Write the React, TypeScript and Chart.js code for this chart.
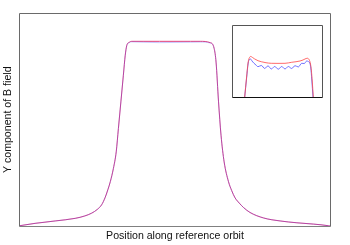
import React, { useEffect, useRef } from "react";
import { Chart, registerables } from "chart.js";

Chart.register(...registerables);

// Main plot: position along orbit (0..100) and normalized field
const mainX = [0, 5.0, 11.5, 17.9, 21.0, 23.2, 25.0, 26.4, 27.5, 28.4, 29.2, 30.2, 31.1, 31.8, 32.6, 33.4, 34.0, 34.5, 35.3, 36.1, 40, 45, 50, 55, 58.1, 61.3, 62.6, 63.2, 64.0, 64.8, 65.8, 67.2, 68.2, 69.3, 70.1, 70.9, 72.0, 74.1, 78.5, 83.8, 89.2, 94.5, 99.4, 100];
const mainRed = [0.004, 0.017, 0.030, 0.044, 0.057, 0.072, 0.092, 0.117, 0.155, 0.198, 0.242, 0.314, 0.403, 0.529, 0.673, 0.817, 0.925, 0.978, 0.995, 1.0, 1.0, 1.0, 1.0, 1.0, 1.0, 0.993, 0.961, 0.888, 0.673, 0.493, 0.349, 0.242, 0.195, 0.155, 0.137, 0.122, 0.103, 0.076, 0.046, 0.030, 0.020, 0.013, 0.004, 0.002];
const mainBlue = [0.004, 0.017, 0.030, 0.044, 0.057, 0.072, 0.092, 0.117, 0.155, 0.198, 0.242, 0.314, 0.403, 0.529, 0.673, 0.817, 0.925, 0.978, 0.993, 0.997, 0.995, 0.993, 0.994, 0.995, 0.996, 0.991, 0.961, 0.888, 0.673, 0.493, 0.349, 0.242, 0.195, 0.155, 0.137, 0.122, 0.103, 0.076, 0.046, 0.030, 0.020, 0.013, 0.004, 0.002];

// Inset: zoom on the plateau
const insetRedX = [12.7, 14.5, 16.2, 17.5, 18.7, 20.5, 22.7, 26, 29.3, 34, 39.3, 46, 53, 59.7, 64, 68, 71, 73, 75.3, 77.3, 78.5, 79.3, 80.3, 81.3];
const insetRedY = [0, 0.264, 0.486, 0.549, 0.563, 0.549, 0.528, 0.504, 0.49, 0.476, 0.468, 0.467, 0.468, 0.482, 0.49, 0.5, 0.514, 0.528, 0.538, 0.514, 0.458, 0.375, 0.208, 0];
const insetBlueX = [12.7, 14.5, 16.2, 17.5, 18.5, 20, 22, 24, 26, 29.3, 32.7, 36, 39.3, 42.7, 46.3, 49.7, 53, 56.3, 59.7, 63, 66.3, 69.7, 72.3, 74.7, 76.3, 77.8, 78.8, 79.8, 81];
const insetBlueY = [0, 0.25, 0.472, 0.521, 0.528, 0.5, 0.468, 0.444, 0.421, 0.438, 0.396, 0.433, 0.389, 0.424, 0.386, 0.424, 0.389, 0.424, 0.396, 0.435, 0.417, 0.468, 0.465, 0.5, 0.493, 0.472, 0.403, 0.236, 0];

const xTitle = "Position along reference orbit";
const yTitle = "Y component of B field";

const FONT = "'Liberation Sans', Arial, Helvetica, sans-serif";

const pts = (xs: number[], ys: number[]) => xs.map((x, i) => ({ x, y: ys[i] }));

const framePlugin = (color: string, bottomColor: string) => ({
  id: "frame",
  afterDraw(chart: any) {
    const { ctx, chartArea: a } = chart;
    const l = Math.floor(a.left) + 0.5;
    const r = Math.floor(a.right) + 0.5;
    const t = Math.floor(a.top) + 0.5;
    const b = Math.floor(a.bottom) + 0.5;
    ctx.save();
    ctx.lineWidth = 1;
    ctx.strokeStyle = color;
    ctx.beginPath();
    ctx.moveTo(l, b);
    ctx.lineTo(l, t);
    ctx.lineTo(r, t);
    ctx.lineTo(r, b);
    ctx.stroke();
    ctx.strokeStyle = bottomColor;
    ctx.beginPath();
    ctx.moveTo(l, b);
    ctx.lineTo(r, b);
    ctx.stroke();
    ctx.restore();
  },
});

export default function App() {
  const mainRef = useRef<HTMLCanvasElement | null>(null);
  const insetRef = useRef<HTMLCanvasElement | null>(null);

  useEffect(() => {
    const lineDs = (data: any, color: string) => ({
      data,
      borderColor: color,
      borderWidth: 1,
      pointRadius: 0,
      fill: false,
      cubicInterpolationMode: "monotone" as const,
    });

    const main = new Chart(mainRef.current!, {
      type: "line",
      data: {
        datasets: [
          lineDs(pts(mainX, mainBlue), "rgba(80,80,255,0.3)"),
          lineDs(pts(mainX, mainRed), "rgba(220,30,100,0.85)"),
        ],
      },
      options: {
        responsive: false,
        animation: false,
        events: [],
        layout: { padding: { top: 13, right: 19.5, left: 0, bottom: 0 } },
        plugins: { legend: { display: false }, tooltip: { enabled: false } },
        scales: {
          x: {
            type: "linear",
            min: 0,
            max: 100,
            grid: { display: false, drawTicks: false },
            border: { display: false },
            ticks: { display: false },
            title: {
              display: true,
              text: xTitle,
              color: "#111",
              font: { family: FONT, size: 10.6 },
              padding: { top: 3.68, bottom: 2.1 },
            },
          },
          y: {
            type: "linear",
            min: 0,
            max: 1.153,
            grid: { display: false, drawTicks: false },
            border: { display: false },
            ticks: { display: false },
            title: {
              display: true,
              text: yTitle,
              color: "#111",
              font: { family: FONT, size: 10.6 },
              padding: { top: 1.75, bottom: 5.03 },
            },
          },
        },
      },
      plugins: [framePlugin("#6a6a6a", "#808080")],
    });

    const inset = new Chart(insetRef.current!, {
      type: "line",
      data: {
        datasets: [
          lineDs(pts(insetRedX, insetRedY), "rgba(255,70,70,0.8)"),
          lineDs(pts(insetBlueX, insetBlueY), "rgba(80,80,255,0.8)"),
        ],
      },
      options: {
        responsive: false,
        animation: false,
        events: [],
        layout: { padding: { top: 0, right: 1, left: 0, bottom: 1 } },
        plugins: { legend: { display: false }, tooltip: { enabled: false } },
        scales: {
          x: { type: "linear", min: 0, max: 90, display: false },
          y: { type: "linear", min: 0, max: 1, display: false },
        },
      },
      plugins: [framePlugin("#555", "#111")],
    });

    return () => {
      main.destroy();
      inset.destroy();
    };
  }, []);

  return (
    <div style={{ position: "fixed", left: 0, top: 0, width: 350, height: 245, background: "#fff" }}>
      <canvas ref={mainRef} width={350} height={245} style={{ position: "absolute", left: 0, top: 0 }} />
      <canvas ref={insetRef} width={91} height={73} style={{ position: "absolute", left: 232, top: 25, background: "#fff" }} />
    </div>
  );
}
